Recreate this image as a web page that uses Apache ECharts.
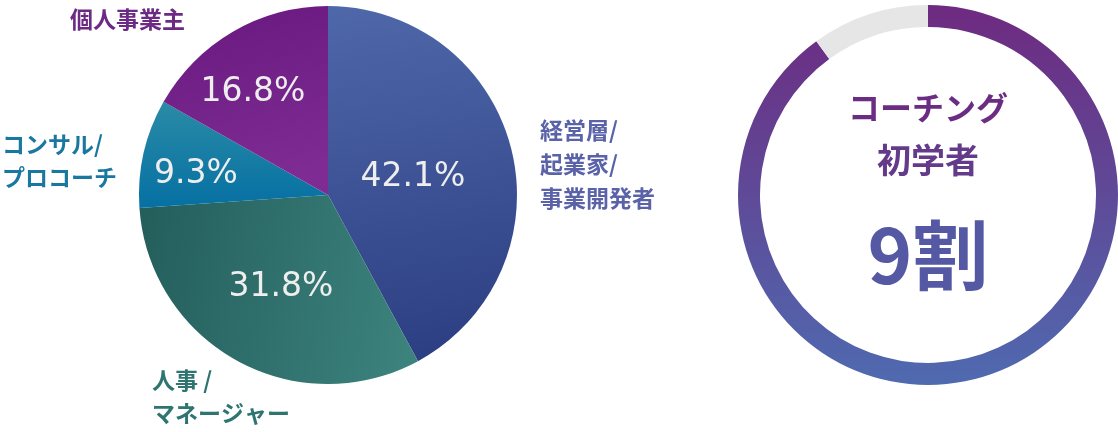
<!DOCTYPE html>
<html>
<head>
<meta charset="utf-8">
<script src="https://cdn.jsdelivr.net/npm/echarts@6/dist/echarts.min.js"></script>
<style>
html,body{margin:0;padding:0;background:#fff;}
#chart{width:1118px;height:432px;}
</style>
</head>
<body>
<div id="chart"></div>
<script>
// ---- data ----
var categories = ['経営層/\n起業家/\n事業開発者', '人事 /\nマネージャー', 'コンサル/\nプロコーチ', '個人事業主'];
var shares = [42.1, 31.8, 9.3, 16.8];
var ringValues = [90, 10];
var ringTitleLines = ['コーチング', '初学者'];
var ringValueText = '9割';

// ---- styles ----
var sliceGradients = [
  {x:0, y:0, x2:0.3, y2:1, stops:['#4f68aa', '#2c3f82']},
  {x:0, y:0.3, x2:1, y2:0.6, stops:['#245f5c', '#3c827d']},
  {x:0, y:0, x2:0, y2:1, stops:['#2a8ba6', '#0670a3']},
  {x:0, y:0, x2:0.3, y2:1, stops:['#68187e', '#7e2c93']}
];
var nameColors = ['#5a62a8', '#2e7470', '#1a78a0', '#6d2a84'];
var pctPos = [[413, 177], [281, 287], [196, 174], [253, 92]];
var namePos = [[540, 113], [152, 364], [2, 128], [70, 2]];
var nameLineHeights = [34, 33, 33, 34];

var chart = echarts.init(document.getElementById('chart'), null, {renderer: 'canvas'});

function grad(g) {
  return new echarts.graphic.LinearGradient(g.x, g.y, g.x2, g.y2, [
    {offset: 0, color: g.stops[0]}, {offset: 1, color: g.stops[1]}
  ]);
}

var pieData = categories.map(function (c, i) {
  return {name: c, value: shares[i], itemStyle: {color: grad(sliceGradients[i])}};
});
var nameData = categories.map(function (c, i) {
  return {name: c, value: shares[i], itemStyle: {color: 'rgba(0,0,0,0)'},
    label: {color: nameColors[i], lineHeight: nameLineHeights[i]}};
});

var pieCenter = [328, 195];
var pieRadius = 189;

var option = {
  animation: false,
  series: [
    {
      type: 'pie', center: pieCenter, radius: pieRadius, startAngle: 90, clockwise: true,
      silent: true, data: pieData,
      label: {show: true, position: 'inside', formatter: function (p) { return p.value.toFixed(1) + '%'; },
        color: '#eeeeee', fontFamily: 'DejaVu Sans', fontSize: 33, fontWeight: 'normal'},
      labelLine: {show: false},
      labelLayout: function (p) {
        var pos = pctPos[p.dataIndex];
        return {x: pos[0], y: pos[1], align: 'center', verticalAlign: 'middle'};
      }
    },
    {
      type: 'pie', center: pieCenter, radius: pieRadius, startAngle: 90, clockwise: true,
      silent: true, data: nameData,
      label: {show: true, position: 'outside', alignTo: 'none', overflow: 'none', bleedMargin: 0,
        formatter: '{b}',
        fontFamily: 'Noto Sans CJK JP', fontSize: 23, fontWeight: 'bold', align: 'left'},
      labelLine: {show: false},
      labelLayout: function (p) {
        var pos = namePos[p.dataIndex];
        return {x: pos[0], y: pos[1], align: 'left', verticalAlign: 'top', hideOverlap: false};
      }
    },
    {
      type: 'pie', center: [928, 195], radius: [168, 190], startAngle: 90, clockwise: true,
      silent: true, label: {show: false}, labelLine: {show: false},
      data: [
        {value: ringValues[0], itemStyle: {color: new echarts.graphic.LinearGradient(0, 0, 0, 1, [
          {offset: 0, color: '#6e2a80'}, {offset: 1, color: '#4f6ab0'}])}},
        {value: ringValues[1], itemStyle: {color: '#e6e6e6'}}
      ]
    }
  ],
  graphic: [
    {type: 'text', x: 928, y: 108, style: {text: ringTitleLines[0], fill: '#6b2c83',
      font: 'bold 32px "Noto Sans CJK JP"', align: 'center', verticalAlign: 'middle'}},
    {type: 'text', x: 928, y: 160, style: {text: ringTitleLines[1], fill: '#643a8b',
      font: 'bold 34px "Noto Sans CJK JP"', align: 'center', verticalAlign: 'middle'}},
    {type: 'text', x: 928, y: 255, style: {text: ringValueText, fill: '#5559a4',
      font: 'bold 76px "Noto Sans CJK JP"', align: 'center', verticalAlign: 'middle'}}
  ]
};
chart.setOption(option);
</script>
</body>
</html>
